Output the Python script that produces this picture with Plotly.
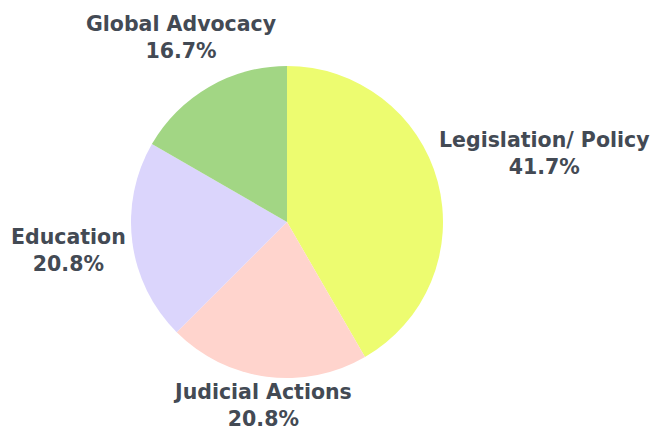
import math
import plotly.graph_objects as go

categories = ["Legislation/ Policy", "Judicial Actions", "Education", "Global Advocacy"]
values = [10, 5, 5, 4]
colors = ["#EDFC70", "#FFD4CD", "#DBD5FC", "#A2D684"]

W, H = 660, 431
ML, MR, MT, MB = 0, 102, 58, 61
PW, PH = W - ML - MR, H - MT - MB
FS = 20.5
TEXT_COLOR = "#434A54"
FONT = "DejaVu Sans"

fig = go.Figure(
    go.Pie(
        labels=categories,
        values=values,
        sort=False,
        direction="clockwise",
        rotation=0,
        marker=dict(colors=colors, line=dict(width=0)),
        textinfo="none",
        hoverinfo="label+percent",
        showlegend=False,
    )
)

# outside labels placed along each slice's mid-angle
cx, cy = ML + PW / 2, MT + PH / 2
R = min(PW, PH) / 2
total = sum(values)
narrow = set("iltjfI/. J:")


def text_width(s):
    return sum((0.35 if ch in narrow else 0.68) for ch in s) * FS


cum = 0
gap = 8
half_h_up, half_h_down = 2, 10
for lab, v in zip(categories, values):
    theta = 2 * math.pi * (cum + v / 2) / total
    cum += v
    dx, dy = math.sin(theta), -math.cos(theta)
    pct = f"{v / total * 100:.1f}%"
    w = max(text_width(lab), text_width(pct))
    d = (R + gap + abs(dx) * w / 2
         + max(dy, 0) * half_h_down + max(-dy, 0) * half_h_up)
    px, py = cx + dx * d, cy + dy * d
    fig.add_annotation(
        x=(px - ML) / PW,
        y=1 - (py - MT) / PH,
        xref="paper",
        yref="paper",
        xanchor="center",
        yanchor="middle",
        showarrow=False,
        text=f"<b>{lab}</b><br><b>{pct}</b>",
        font=dict(family=FONT, size=FS, color=TEXT_COLOR),
        align="center",
    )

fig.update_layout(
    width=W,
    height=H,
    margin=dict(l=ML, r=MR, t=MT, b=MB),
    paper_bgcolor="white",
    plot_bgcolor="white",
)

fig.write_html("out.html")
